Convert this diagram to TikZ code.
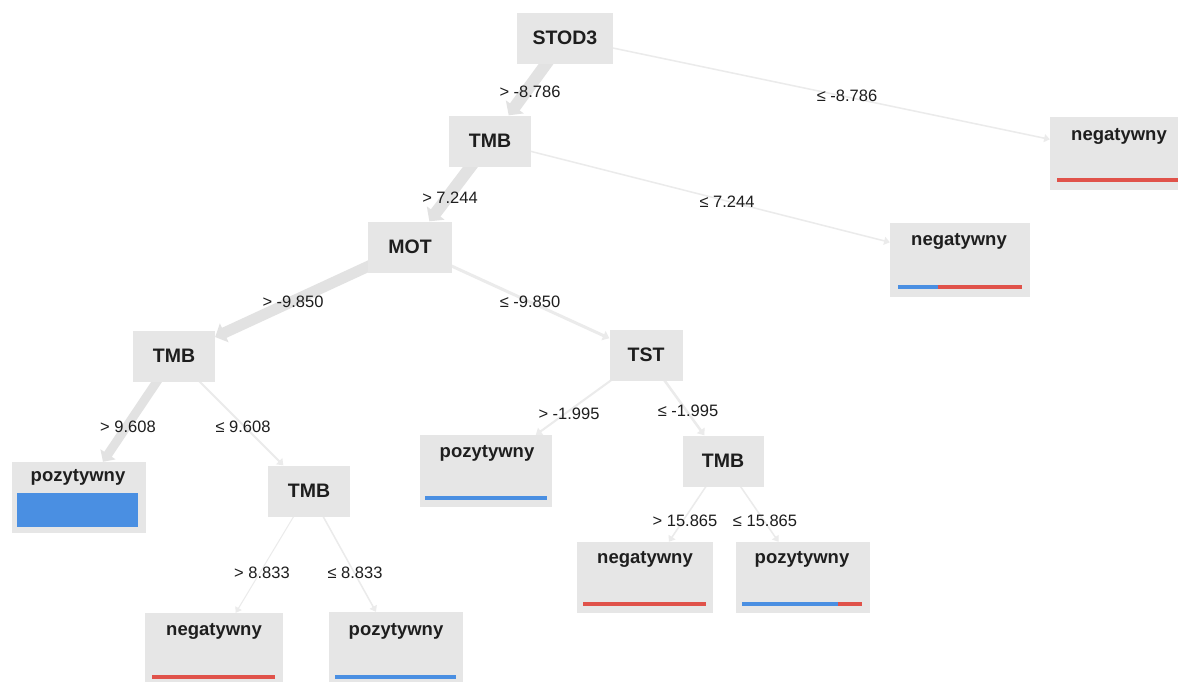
\documentclass[tikz,border=0pt]{standalone}
\usepackage{fontspec}
\setmainfont{Liberation Sans}
\usetikzlibrary{arrows.meta,backgrounds}

\definecolor{boxgray}{HTML}{E6E6E6}
\definecolor{edgegray}{HTML}{E2E2E2}
\definecolor{thingray}{HTML}{EBEBEB}
\definecolor{posblue}{HTML}{4A8FE2}
\definecolor{negred}{HTML}{E0524A}
\definecolor{ink}{HTML}{1E1E1E}

\begin{document}
\begin{tikzpicture}[x=1pt,y=-1pt,
  split/.style={fill=boxgray, minimum height=51pt, inner sep=0pt, text=ink,
    font=\fontsize{19.5}{21}\selectfont\bfseries},
  leafbox/.style={fill=boxgray, minimum width=136pt, minimum height=72pt, inner sep=0pt},
  leaftext/.style={anchor=base, inner sep=0pt, text=ink,
    font=\fontsize{18.5}{20}\selectfont\bfseries},
  cond/.style={inner sep=0pt, text=ink, font=\fontsize{16.5}{18}\selectfont},
  flow/.style={draw=edgegray, line width=#1,
    -{Triangle[width=6pt 1.3, length=5pt 0.45]}},
  faint/.style={draw=thingray, line width=#1,
    -{Triangle[width=6pt 1.3, length=5pt 0.45]}},
]
\useasboundingbox (0,0) rectangle (1178,681);

% split nodes
\node[split, minimum width=96pt] (stod) at (565,38)  {STOD3};
\node[split, minimum width=82pt] (tmbA) at (490,141) {TMB};
\node[split, minimum width=84pt] (mot)  at (410,247) {MOT};
\node[split, minimum width=82pt] (tmbB) at (174,356) {TMB};
\node[split, minimum width=73pt] (tst)  at (646,355) {TST};
\node[split, minimum width=82pt] (tmbC) at (309,491) {TMB};
\node[split, minimum width=81pt] (tmbD) at (723,461) {TMB};

% leaf nodes
\node[leafbox, minimum height=73pt] (negR) at (1118,153.5) {};
\node[leafbox, minimum width=140pt, minimum height=74pt] (negM) at (960,260) {};
\node[leafbox, minimum width=134pt, minimum height=71pt] (pozL) at (79,497.5) {};
\node[leafbox, minimum width=132pt] (pozM) at (486,471) {};
\node[leafbox, minimum width=138pt] (negBL) at (214,649) {};
\node[leafbox, minimum width=134pt] (pozBL) at (396,648) {};
\node[leafbox, minimum width=136pt, minimum height=71pt] (negBR) at (645,577.5) {};
\node[leafbox, minimum width=134pt, minimum height=71pt] (pozBR) at (803,577.5) {};

\node[leaftext] (negRt)  at (1119,140) {negatywny};
\node[leaftext] (negMt)  at (959,245)  {negatywny};
\node[leaftext] (pozLt)  at (78,481)   {pozytywny};
\node[leaftext] (pozMt)  at (487,457)  {pozytywny};
\node[leaftext] (negBLt) at (214,635)  {negatywny};
\node[leaftext] (pozBLt) at (396,635)  {pozytywny};
\node[leaftext] (negBRt) at (645,563)  {negatywny};
\node[leaftext] (pozBRt) at (802,563)  {pozytywny};

% class distribution bars
\fill[negred]  (1057,178) rectangle (1190,182);
\fill[posblue] (898,285)  rectangle (938,289);
\fill[negred]  (938,285)  rectangle (1022,289);
\fill[posblue] (17,493)   rectangle (138,527);
\fill[posblue] (425,496)  rectangle (547,500);
\fill[negred]  (152,675)  rectangle (275,679);
\fill[posblue] (335,675)  rectangle (456,679);
\fill[negred]  (583,602)  rectangle (706,606);
\fill[posblue] (742,602)  rectangle (838,606);
\fill[negred]  (838,602)  rectangle (862,606);

% branches, widths follow the sample counts
\begin{pgfonlayer}{background}
  \fill[white] (0,0) rectangle (1178,681);
  \draw[flow=12pt]   (stod.center) -- (tmbA);
  \draw[faint=1.5pt] (stod.center) -- (negR);
  \draw[flow=12pt]   (tmbA.center) -- (mot);
  \draw[faint=1.5pt] (tmbA.center) -- (negM);
  \draw[flow=11pt]   (mot.center)  -- (tmbB);
  \draw[faint=3pt]   (mot.center)  -- (tst);
  \draw[flow=9pt]    (tmbB.center) -- (pozL);
  \draw[faint=2pt]   (tmbB.center) -- (tmbC);
  \draw[faint=2pt]   (tst.center)  -- (pozM);
  \draw[faint=2.5pt] (tst.center)  -- (tmbD);
  \draw[faint=1pt]   (tmbC.center) -- (negBL);
  \draw[faint=1.5pt] (tmbC.center) -- (pozBL);
  \draw[faint=1.5pt] (tmbD.center) -- (negBR);
  \draw[faint=1.5pt] (tmbD.center) -- (pozBR);
\end{pgfonlayer}

% split conditions
\node[cond] (c1)  at (530,92)  {> -8.786};
\node[cond] (c2)  at (847,96)  {≤ -8.786};
\node[cond] (c3)  at (450,198) {> 7.244};
\node[cond] (c4)  at (727,202) {≤ 7.244};
\node[cond] (c5)  at (293,302) {> -9.850};
\node[cond] (c6)  at (530,302) {≤ -9.850};
\node[cond] (c7)  at (128,427) {> 9.608};
\node[cond] (c8)  at (243,427) {≤ 9.608};
\node[cond] (c9)  at (569,414) {> -1.995};
\node[cond] (c10) at (688,411) {≤ -1.995};
\node[cond] (c11) at (262,573) {> 8.833};
\node[cond] (c12) at (355,573) {≤ 8.833};
\node[cond] (c13) at (685,521) {> 15.865};
\node[cond] (c14) at (765,521) {≤ 15.865};
\end{tikzpicture}
\end{document}
